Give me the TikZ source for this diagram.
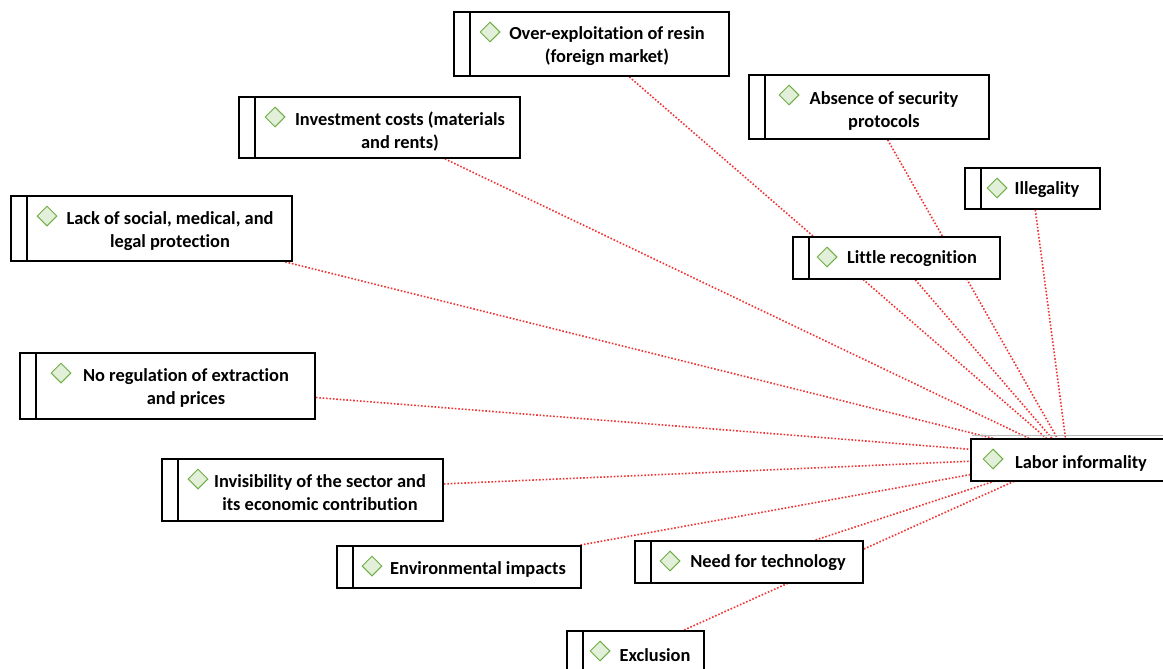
\documentclass[tikz,border=0pt]{standalone}
\usepackage{fontspec}
\setmainfont{Carlito}[Ligatures=NoCommon]
\usetikzlibrary{shapes.geometric,calc}
\pgfdeclarelayer{bg}
\pgfsetlayers{bg,main}
\definecolor{dgreen}{HTML}{70AD47}
\definecolor{lgreen}{HTML}{E2F0D9}
\definecolor{lred}{HTML}{F03434}
\tikzset{
  box/.style={draw=black, line width=1.9pt, fill=white, rectangle, inner sep=0pt},
  dia/.style={diamond, draw=dgreen, fill=lgreen, line width=1pt, minimum width=20pt, minimum height=20pt, inner sep=0pt},
  lbl/.style={font=\fontsize{18.4}{23}\selectfont\bfseries, align=center, inner sep=0pt},
  link/.style={draw=lred, line width=1.6pt, dash pattern=on 1.6pt off 1.8pt},
  sep/.style={draw=black, line width=1.9pt},
}
\newcommand{\mkbox}[9]{%
  \node[box, anchor=north west, minimum width={#4-#2}, minimum height={#5-#3}] (#1) at (#2,#3) {};
  \draw[sep] ($(#1.north west)+(17,0)$) -- ($(#1.south west)+(17,0)$);
  \node[dia] (#1d) at (#6,#3+21) {};
  \node[lbl] (#1t) at (#7,#8) {#9};
}
\begin{document}
\begin{tikzpicture}[x=1pt,y=-1pt]
\useasboundingbox (0,0) rectangle (1163,669);
\mkbox{over}{453}{11}{728}{75}{490}{607}{46}{Over-exploitation of resin\\(foreign market)}
\mkbox{abs}{748}{74}{988}{138}{789}{884}{111}{Absence of security\\protocols}
\mkbox{ill}{964}{167}{1099}{208}{997}{1047}{190}{Illegality}
\mkbox{lit}{792}{236}{999}{278}{827}{912}{259}{Little recognition}
\mkbox{inv}{238}{96}{519}{157}{275}{400}{132}{Investment costs (materials\\and rents)}
\mkbox{lack}{10}{195}{291}{260}{47}{170}{231}{Lack of social, medical, and\\legal protection}
\mkbox{noreg}{19}{352}{314}{418}{61}{186}{388}{No regulation of extraction\\and prices}
\mkbox{invis}{161}{458}{442}{520}{198}{320}{493}{Invisibility of the sector and\\its economic contribution}
\mkbox{env}{336}{545}{580}{587}{372}{478}{569}{Environmental impacts}
\mkbox{need}{634}{540}{862}{582}{670}{768}{563}{Need for technology}
\mkbox{excl}{566}{630}{703}{672}{600}{655}{655}{Exclusion}
% target node
\node[box, anchor=north west, minimum width=196, minimum height=42] (labor) at (970,438) {};
\draw[gray!55, line width=1pt] ($(labor.north west)+(2,-3)$) -- ($(labor.north east)+(0,-3)$);
\node[dia] (labord) at (993,459) {};
\node[lbl] (labort) at (1081,463) {Labor informality};
\coordinate (T) at (1068,457);
\begin{pgfonlayer}{bg}
\foreach \s in {over,abs,ill,lit,inv,lack,noreg,invis,env,need,excl}
  \draw[link] (\s) -- (T);
\end{pgfonlayer}
\end{tikzpicture}
\end{document}
